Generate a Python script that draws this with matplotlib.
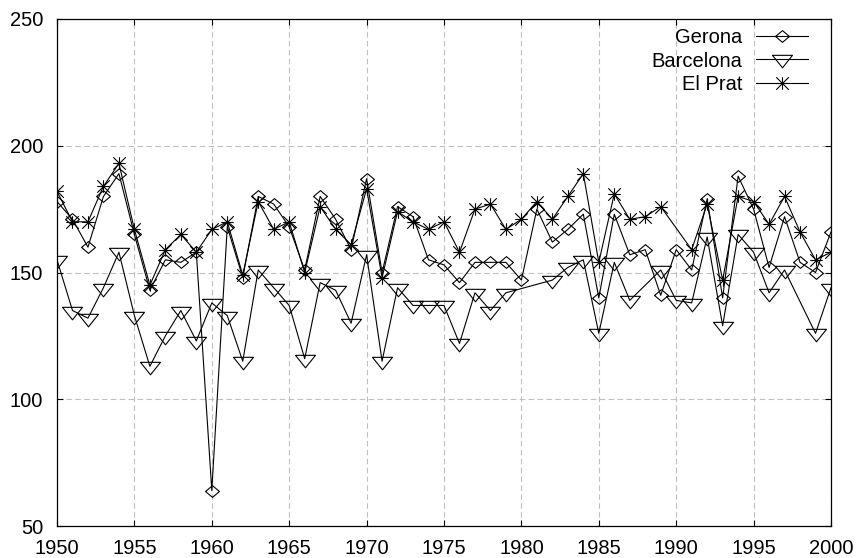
import numpy as np
import matplotlib
matplotlib.use("Agg")
import matplotlib.pyplot as plt
from matplotlib.path import Path

# valores (mm por año)
anyos = list(range(1950, 2001))
gerona = [178, 171, 160, 180, 189, 165, 143, 155, 154, 158,
          64, 168, 148, 180, 177, 168, 151, 180, 171, 159,
          187, 150, 176, 172, 155, 153, 146, 154, 154, 154,
          147, 175, 162, 167, 173, 140, 173, 157, 159, 141,
          159, 151, 179, 140, 188, 175, 152, 172, 154, 150,
          166]

# Barcelona sin datos en 1980, 1981, 1988, 1998
anyos_bcn = [a for a in anyos if a not in (1980, 1981, 1988, 1998)]
barcelona = [155, 135, 132, 144, 158, 133, 113, 125, 135, 123,
             138, 133, 115, 151, 144, 137, 116, 146, 143, 130,
             157, 115, 144, 137, 137, 137, 122, 142, 135, 142,
             147, 152, 155, 126, 154, 139,
             151, 139, 138, 164, 129, 165, 158, 142, 151,
             126, 144]

# El Prat sin dato en 1990
anyos_prat = [a for a in anyos if a != 1990]
el_prat = [182, 170, 170, 184, 193, 167, 145, 159, 165, 158,
           167, 170, 149, 178, 167, 170, 150, 176, 167, 161,
           183, 148, 174, 170, 167, 170, 158, 175, 177, 167,
           171, 178, 171, 180, 189, 154, 181, 171, 172, 176,
           159, 177, 147, 180, 178, 169, 180, 166, 155,
           158]

# marcadores tipo gnuplot
diamante = [(-6.75, 0), (0, 5.7), (6.75, 0), (0, -5.7), (-6.75, 0)]
triangulo = [(-10, 4.17), (10, 4.17), (0, -8.33), (-10, 4.17)]
estrella = Path([(-1, 0), (1, 0), (0, -1), (0, 1), (-1, -1), (1, 1), (-1, 1), (1, -1)],
                [Path.MOVETO, Path.LINETO] * 4)

plt.rcParams['font.family'] = ['Liberation Sans', 'DejaVu Sans']
plt.rcParams['font.size'] = 14.5

fig = plt.figure(figsize=(8.56, 5.58), dpi=100)
ax = fig.add_axes([57 / 856, 1 - 526 / 558, (831 - 57) / 856, (526 - 19) / 558])

lw = 0.8
ax.plot(anyos, gerona, color='black', lw=lw, marker=diamante, ms=10,
        mfc='none', mec='black', mew=lw, label='Gerona')
ax.plot(anyos_bcn, barcelona, color='black', lw=lw, marker=triangulo, ms=14.4,
        mfc='none', mec='black', mew=lw, label='Barcelona')
ax.plot(anyos_prat, el_prat, color='black', lw=lw, marker=estrella, ms=9.0,
        mfc='none', mec='black', mew=lw, label='El Prat')

ax.set_xlim(1950, 2000)
ax.set_ylim(50, 250)
ax.set_xticks(range(1950, 2001, 5))
ax.set_yticks(range(50, 251, 50))
ax.tick_params(direction='in', length=4.5, width=0.8, top=True, right=True)
ax.tick_params(axis='x', pad=9)
ax.tick_params(axis='y', pad=10)
ax.grid(True, color='#c0c0c0', linestyle=(0, (5, 3)), linewidth=0.8)
for s in ax.spines.values():
    s.set_linewidth(0.9)

leg = ax.legend(loc='upper right', bbox_to_anchor=(0.9806, 0.998),
                markerfirst=False, frameon=False,
                handlelength=2.6, handletextpad=0.65, labelspacing=0.22,
                borderaxespad=0, fontsize=14.5)

fig.savefig('out.png', dpi=100)
